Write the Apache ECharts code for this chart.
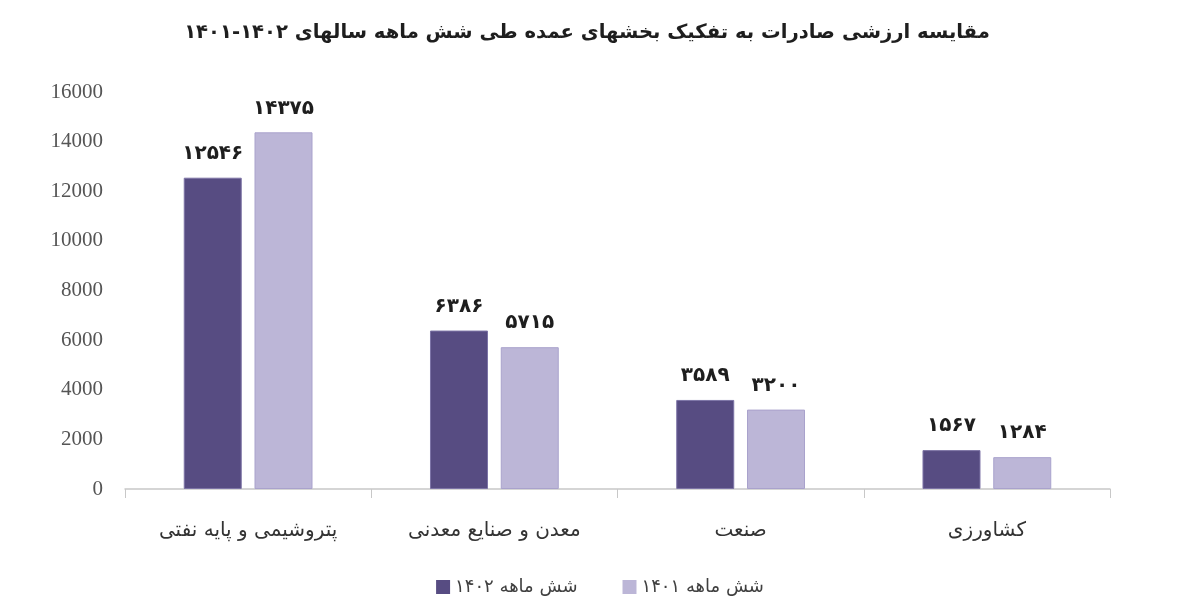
<!DOCTYPE html>
<html>
<head>
<meta charset="utf-8">
<script src="https://cdn.jsdelivr.net/npm/echarts@6/dist/echarts.min.js"></script>
<style>html,body{margin:0;padding:0;background:#fff;}#c{width:1200px;height:613px;}</style>
</head>
<body>
<div id="c"></div>
<script>
const titleText = 'مقایسه ارزشی صادرات به تفکیک بخشهای عمده طی شش ماهه سالهای ۱۴۰۲-۱۴۰۱';
const categories = ['پتروشیمی و پایه نفتی', 'معدن و صنایع معدنی', 'صنعت', 'کشاورزی'];
const seriesNames = ['شش ماهه ۱۴۰۲', 'شش ماهه ۱۴۰۱'];
const values1402 = [12546, 6386, 3589, 1567];
const values1401 = [14375, 5715, 3200, 1284];
const yTicks = [0, 2000, 4000, 6000, 8000, 10000, 12000, 14000, 16000];

const toFa = n => String(n).replace(/\d/g, d => '۰۱۲۳۴۵۶۷۸۹'[d]);
const FONT = '"DejaVu Sans", "Noto Sans", sans-serif';

const chart = echarts.init(document.getElementById('c'));
const labelCfg = {
  show: true, position: 'top', distance: 14,
  color: '#1e1e1e', fontSize: 20, fontWeight: 'bold', fontFamily: FONT,
  formatter: p => toFa(p.value)
};
chart.setOption({
  animation: false,
  backgroundColor: '#ffffff',
  title: {
    text: titleText, left: 582, top: 18, textAlign: 'center',
    textStyle: { fontFamily: FONT, fontSize: 19.6, fontWeight: 'bold', color: '#1e1e1e' }
  },
  legend: {
    data: seriesNames, bottom: 12, left: 'center', itemGap: 45,
    itemWidth: 14, itemHeight: 14, icon: 'rect', itemStyle: { borderWidth: 0 },
    textStyle: { fontFamily: FONT, fontSize: 18, color: '#404040' }
  },
  grid: { left: 125, right: 90, top: 92, bottom: 124, containLabel: false },
  xAxis: {
    type: 'category', data: categories,
    axisLine: { show: true, lineStyle: { color: '#c8c8c8', width: 1.5 } },
    axisTick: { show: true, length: 9, lineStyle: { color: '#c8c8c8' } },
    axisLabel: { fontFamily: FONT, fontSize: 20, color: '#333', margin: 32 }
  },
  yAxis: {
    type: 'value', min: yTicks[0], max: yTicks[yTicks.length - 1], interval: 2000,
    axisLine: { show: false }, axisTick: { show: false },
    splitLine: { show: false },
    axisLabel: { fontFamily: '"Liberation Serif", serif', fontSize: 21, color: '#555', margin: 22,
      formatter: v => String(v) }
  },
  series: [
    { name: seriesNames[0], type: 'bar', data: values1402, barWidth: 58, barGap: '22%',
      itemStyle: { color: '#574c82', borderColor: '#7d74a6', borderWidth: 1 }, label: labelCfg },
    { name: seriesNames[1], type: 'bar', data: values1401, barWidth: 58,
      itemStyle: { color: '#bcb6d7', borderColor: '#a9a2cc', borderWidth: 1 }, label: labelCfg }
  ]
});
</script>
</body>
</html>
